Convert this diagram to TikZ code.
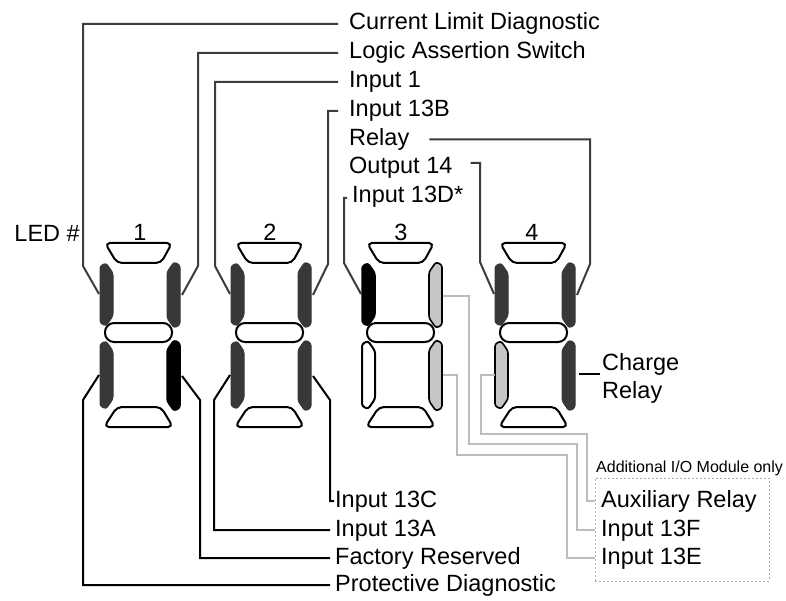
\documentclass[tikz,border=0pt]{standalone}
\usepackage{fontspec}
\setmainfont{Liberation Sans}
\usetikzlibrary{calc}
\definecolor{segdark}{HTML}{38383A}
\definecolor{seglight}{HTML}{C6C6C8}
\definecolor{wire}{HTML}{3C3C3C}
\definecolor{graywire}{HTML}{BDBDBD}
\definecolor{boxgray}{HTML}{ABABAB}
\tikzset{
  lbl/.style={font=\fontsize{23.5}{28}\selectfont, inner sep=0pt, anchor=west, text height=17pt, text depth=5pt},
  smalllbl/.style={font=\fontsize{16}{19}\selectfont, inner sep=0pt, anchor=west},
  segW/.style={draw=black, line width=2pt, fill=white, line join=round},
  segD/.style={draw=segdark, line width=1pt, fill=segdark, line join=round},
  segB/.style={draw=black, line width=1.5pt, fill=black, line join=round},
  segL/.style={draw=black, line width=1.6pt, fill=seglight, line join=round},
  conn/.style={draw=wire, line width=2pt},
  connB/.style={draw=black, line width=2pt},
  connG/.style={draw=graywire, line width=1.8pt},
  iobox/.style={draw=boxgray, line width=0.8pt, dash pattern=on 2pt off 2pt}
}
% #1 centre x, #2 name, #3 UL, #4 UR, #5 LL, #6 LR
\newcommand\leddigit[6]{%
  \begin{scope}[shift={(#1,0)}]
    \draw[segW, rounded corners=5pt] (-34,243) -- (33,243) -- (22,263) -- (-22,263) -- cycle;
    \draw[segW, rounded corners=9pt] (-34,323) rectangle (33,342);
    \draw[segW, rounded corners=5pt] (-22,407) -- (22,407) -- (34,427) -- (-35,427) -- cycle;
    \draw[#3, rounded corners=2.5pt] (-39,266) -- (-33,263) -- (-26,273) -- (-26,316) -- (-33,326) -- (-39,323) -- cycle;
    \draw[#4, rounded corners=2.5pt] (41,265) -- (35,262) -- (28,272) -- (28,318) -- (35,328) -- (41,325) -- cycle;
    \draw[#5, rounded corners=2.5pt] (-39,344) -- (-33,341) -- (-26,351) -- (-26,399) -- (-33,409) -- (-39,406) -- cycle;
    \draw[#6, rounded corners=2.5pt] (41,343) -- (35,340) -- (28,350) -- (28,401) -- (35,411) -- (41,408) -- cycle;
    \coordinate (#2-ul) at (-40,294);
    \coordinate (#2-ur) at (43,295);
    \coordinate (#2-ll) at (-40,375);
    \coordinate (#2-lr) at (43,376);
    \coordinate (#2-urg) at (42,296);
    \coordinate (#2-lrg) at (42,375);
    \coordinate (#2-llg) at (-39,375);
    \coordinate (#2-lrc) at (45,374);
  \end{scope}}
\begin{document}
\begin{tikzpicture}[x=1pt,y=-1pt]
\useasboundingbox (0,0) rectangle (786,601);
\fill[white] (0,0) rectangle (786,601);

% digits
\leddigit{139}{d1}{segD}{segD}{segD}{segB}
\leddigit{270}{d2}{segD}{segD}{segD}{segD}
\leddigit{401}{d3}{segB}{segL}{segW}{segL}
\leddigit{534}{d4}{segD}{segD}{segL}{segD}

% digit numbers
\node[lbl, anchor=center] (n1) at (140,234.5) {1};
\node[lbl, anchor=center] (n2) at (270,234.5) {2};
\node[lbl, anchor=center] (n3) at (401,234.5) {3};
\node[lbl, anchor=center] (n4) at (532,234.5) {4};
\node[lbl, anchor=east] (led) at (80,235.5) {LED \#};

% top labels
\node[lbl] (cld) at (349,24) {Current Limit Diagnostic};
\node[lbl] (las) at (349,53) {Logic Assertion Switch};
\node[lbl] (in1) at (349,82) {Input 1};
\node[lbl] (in13b) at (349,111) {Input 13B};
\node[lbl] (relay) at (349,139.5) {Relay};
\node[lbl] (out14) at (349,168) {Output 14};
\node[lbl] (in13d) at (352,196.5) {Input 13D*};

% bottom labels
\node[lbl] (in13c) at (335,501) {Input 13C};
\node[lbl] (in13a) at (335,530) {Input 13A};
\node[lbl] (fact) at (335,558) {Factory Reserved};
\node[lbl] (prot) at (335,585) {Protective Diagnostic};

% charge relay
\node[font=\fontsize{23.5}{28}\selectfont, inner sep=0pt, anchor=west, align=left] (charge) at (602,378.5) {Charge\\Relay};

% additional module
\node[smalllbl] (addl) at (596,468.6) {Additional I/O Module only};
\node[iobox, minimum width=174pt, minimum height=103pt, inner sep=0pt] (box) at (682,529.5) {};
\node[lbl] (aux) at (601,501) {Auxiliary Relay};
\node[lbl] (in13f) at (601,530) {Input 13F};
\node[lbl] (in13e) at (601,558) {Input 13E};

% upper connectors
\draw[conn] ([xshift=-11pt]cld.west) -| (83,266) -- (d1-ul);
\draw[conn] ([xshift=-11pt]las.west) -| (198,266) -- (d1-ur);
\draw[conn] ([xshift=-11pt]in1.west) -| (215,266) -- (d2-ul);
\draw[conn] ([xshift=-11pt]in13b.west) -| (328,264) -- (d2-ur);
\draw[conn] ([xshift=20pt]relay.east) -| (590,264) -- (d4-ur);
\draw[conn] ([xshift=18pt,yshift=5pt]out14.east) -| (480,262) -- (d4-ul);
\draw[conn] ([xshift=-5pt,yshift=-1.5pt]in13d.west) -| (344,263) -- (d3-ul);

% lower connectors
\draw[connB] (d1-ll) -- (83,400) |- ([xshift=-5pt]prot.west);
\draw[connB] (d1-lr) -- (200,400) |- ([xshift=-5pt]fact.west);
\draw[connB] (d2-ll) -- (214,400) |- ([xshift=-5pt]in13a.west);
\draw[connB] (d2-lr) -- (330,400) |- ([xshift=-1pt]in13c.west);
\draw[connB] (d4-lrc) -- ([xshift=-2pt]d4-lrc -| charge.west);

% grey connectors
\draw[connG] (d3-urg) -| (469,444) -| (577,530) -- ([xshift=-6pt]in13f.west);
\draw[connG] (d3-lrg) -| (457,455) -| (567,558) -- ([xshift=-6pt]in13e.west);
\draw[connG] (d4-llg) -| (481,434) -| (587,501) -- ([xshift=-6pt]aux.west);
\end{tikzpicture}
\end{document}
